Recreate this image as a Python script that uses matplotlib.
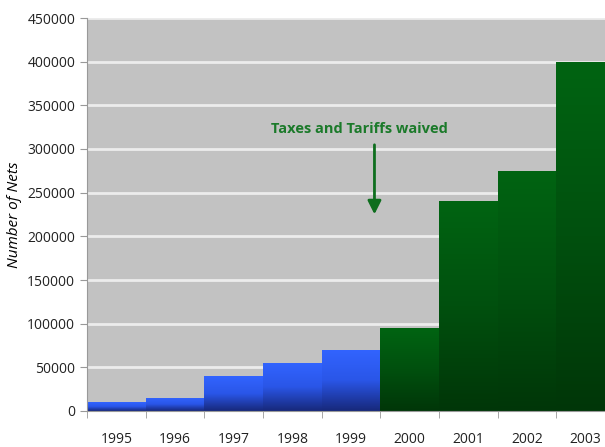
import numpy as np
import matplotlib.pyplot as plt
from matplotlib.colors import LinearSegmentedColormap

years = ["1995", "1996", "1997", "1998", "1999", "2000", "2001", "2002", "2003"]
nets = [10000, 15000, 40000, 55000, 70000, 95000, 240000, 275000, 400000]
waived_from = "2000"

plt.rcParams['font.family'] = ['Open Sans', 'DejaVu Sans']

blue_cmap = LinearSegmentedColormap.from_list("blue", ["#17287a", "#2a56e8", "#3264ff"])
green_cmap = LinearSegmentedColormap.from_list("green", ["#003608", "#00500e", "#006412"])

fig = plt.figure(figsize=(6.05, 4.47), dpi=100)
ax = fig.add_axes([87 / 605, 36 / 447, 528 / 605, 393 / 447])
ax.set_facecolor("#c2c2c2")

x = np.arange(len(years))
bars = ax.bar(x, nets, width=1.0, color="none", edgecolor="none", zorder=2)

# vertical gradient inside each bar
grad = np.linspace(0, 1, 256).reshape(-1, 1)
split = years.index(waived_from)
for i, b in enumerate(bars):
    cmap = blue_cmap if i < split else green_cmap
    x0, w, h = b.get_x(), b.get_width(), b.get_height()
    im = ax.imshow(grad, extent=[x0, x0 + w, 0, h], origin="lower",
                   aspect="auto", cmap=cmap, zorder=2)
    im.set_clip_path(b)

ax.set_xlim(-0.5, len(years) - 0.5)
ax.set_ylim(0, 450000)
ax.set_yticks(np.arange(0, 450001, 50000))
ax.yaxis.grid(True, color="#ececec", linewidth=2)
ax.set_axisbelow(True)

ax.set_xticks(x)
ax.set_xticklabels(years, fontsize=10, color="#222222")
ax.set_xticks(np.arange(-0.5, len(years), 1.0), minor=True)
ax.tick_params(axis="x", which="major", length=0, pad=15)
ax.tick_params(axis="x", which="minor", length=5, color="#999999")
ax.tick_params(axis="y", length=5, color="#999999", labelsize=10, labelcolor="#222222")

for s in ["top", "right"]:
    ax.spines[s].set_visible(False)
for s in ["left", "bottom"]:
    ax.spines[s].set_color("#999999")

ax.set_ylabel("Number of Nets", fontsize=11, style="italic", labelpad=4)

ax.annotate("", xy=(4.4, 222000), xytext=(4.4, 308000),
            arrowprops=dict(arrowstyle="-|>", color="#0e6e1e", lw=2,
                            mutation_scale=20), zorder=5)
ax.text(4.15, 323000, "Taxes and Tariffs waived", ha="center", va="center",
        fontsize=10.5, fontweight="bold", color="#1b7a2a", zorder=5)

fig.savefig("out.png", dpi=100)
